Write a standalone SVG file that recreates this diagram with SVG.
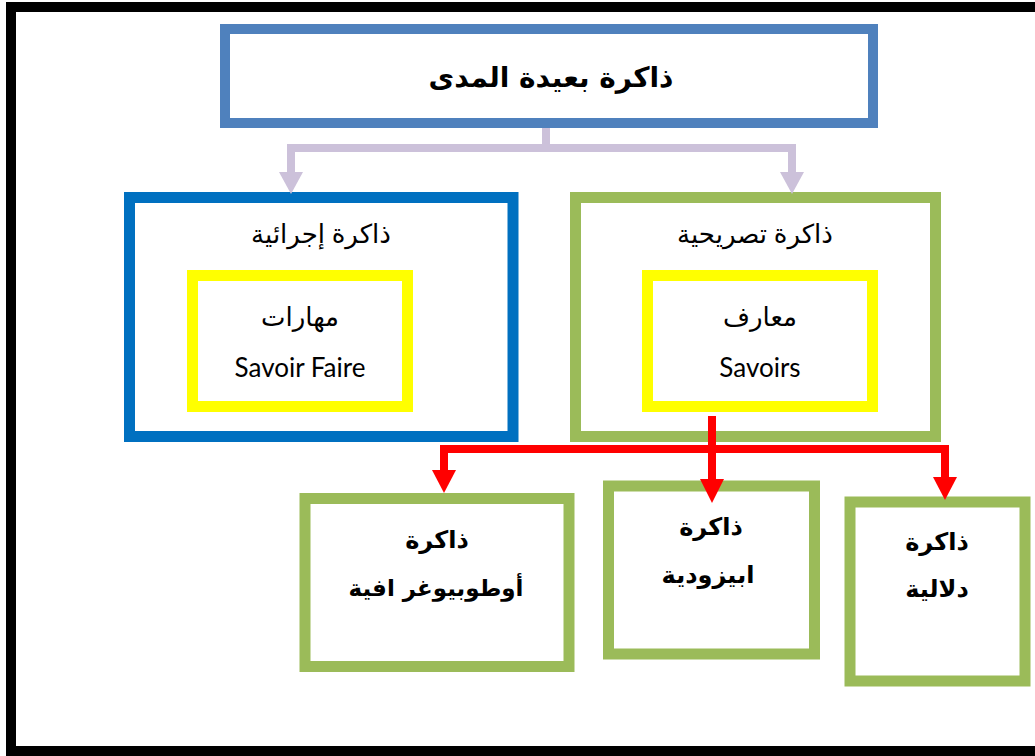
<svg xmlns="http://www.w3.org/2000/svg" width="1035" height="756" viewBox="0 0 1035 756">
<style>
.box{fill:#FFFFFF;stroke-linejoin:miter}
.blue1{stroke:#4F81BD;stroke-width:10}
.blue2{stroke:#0070C0;stroke-width:11}
.green{stroke:#9BBB59;stroke-width:11}
.yellow{stroke:#FFFF00;stroke-width:11}
.ar{font-family:"Noto Sans","DejaVu Sans",sans-serif;text-anchor:middle;fill:#000}
.arb{font-family:"DejaVu Sans","Noto Sans",sans-serif;font-weight:bold;text-anchor:middle;fill:#000}
.lat{font-family:Lato,"Open Sans",sans-serif;font-size:26px;text-anchor:middle;fill:#000}
.purple{fill:none;stroke:#CCC1DA;stroke-width:8}
.red{fill:none;stroke:#FF0000;stroke-width:8}
</style>
<rect x="0" y="0" width="1035" height="756" fill="#FFFFFF"/>
<rect x="11" y="7" width="1040" height="744" fill="none" stroke="#000000" stroke-width="10"/>

<g id="node-long-term">
  <rect class="box blue1" x="225" y="29" width="648" height="94"/>
  <text class="arb" x="551" y="87" font-size="28">ذاكرة بعيدة المدى</text>
</g>

<g id="node-procedural">
  <rect class="box blue2" x="129.5" y="197.5" width="383.5" height="239"/>
  <text class="ar" x="321" y="243" font-size="26">ذاكرة إجرائية</text>
</g>
<g id="node-skills">
  <rect class="box yellow" x="192.5" y="275.5" width="215" height="131"/>
  <text class="ar" x="300" y="326" font-size="26">مهارات</text>
  <text class="lat" x="300" y="377">Savoir Faire</text>
</g>

<g id="node-declarative">
  <rect class="box green" x="575.5" y="197.5" width="360" height="239"/>
  <text class="ar" x="755" y="243" font-size="26">ذاكرة تصريحية</text>
</g>
<g id="node-knowledge">
  <rect class="box yellow" x="647.5" y="275.5" width="225" height="131"/>
  <text class="ar" x="760" y="326" font-size="26">معارف</text>
  <text class="lat" x="760" y="377">Savoirs</text>
</g>

<g id="node-autobiographical">
  <rect class="box green" x="305" y="498.5" width="264" height="168"/>
  <text class="arb" x="437" y="548" font-size="24">ذاكرة</text>
  <text class="arb" x="436" y="596" font-size="23">أوطوبيوغر افية</text>
</g>
<g id="node-episodic">
  <rect class="box green" x="608.5" y="486" width="206" height="168"/>
  <text class="arb" x="711" y="535" font-size="24">ذاكرة</text>
  <text class="arb" x="708" y="583" font-size="24">ابيزودية</text>
</g>
<g id="node-semantic">
  <rect class="box green" x="850" y="502" width="175" height="179"/>
  <text class="arb" x="937" y="550" font-size="24">ذاكرة</text>
  <text class="arb" x="937" y="597" font-size="24">دلالية</text>
</g>

<g id="connectors">
  <path class="purple" d="M546 128 V148 M287 148 H796 M291 148 V174 M792 148 V174"/>
  <polygon points="279,172 303,172 291,194" fill="#CCC1DA"/>
  <polygon points="780,172 804,172 792,194" fill="#CCC1DA"/>
  <path class="red" d="M712 416 V481 M440 449 H949 M444 449 V472 M945 449 V479"/>
  <polygon points="432,470 456,470 444,493" fill="#FF0000"/>
  <polygon points="700,479 724,479 712,503" fill="#FF0000"/>
  <polygon points="933,477 957,477 945,500" fill="#FF0000"/>
</g>
</svg>
